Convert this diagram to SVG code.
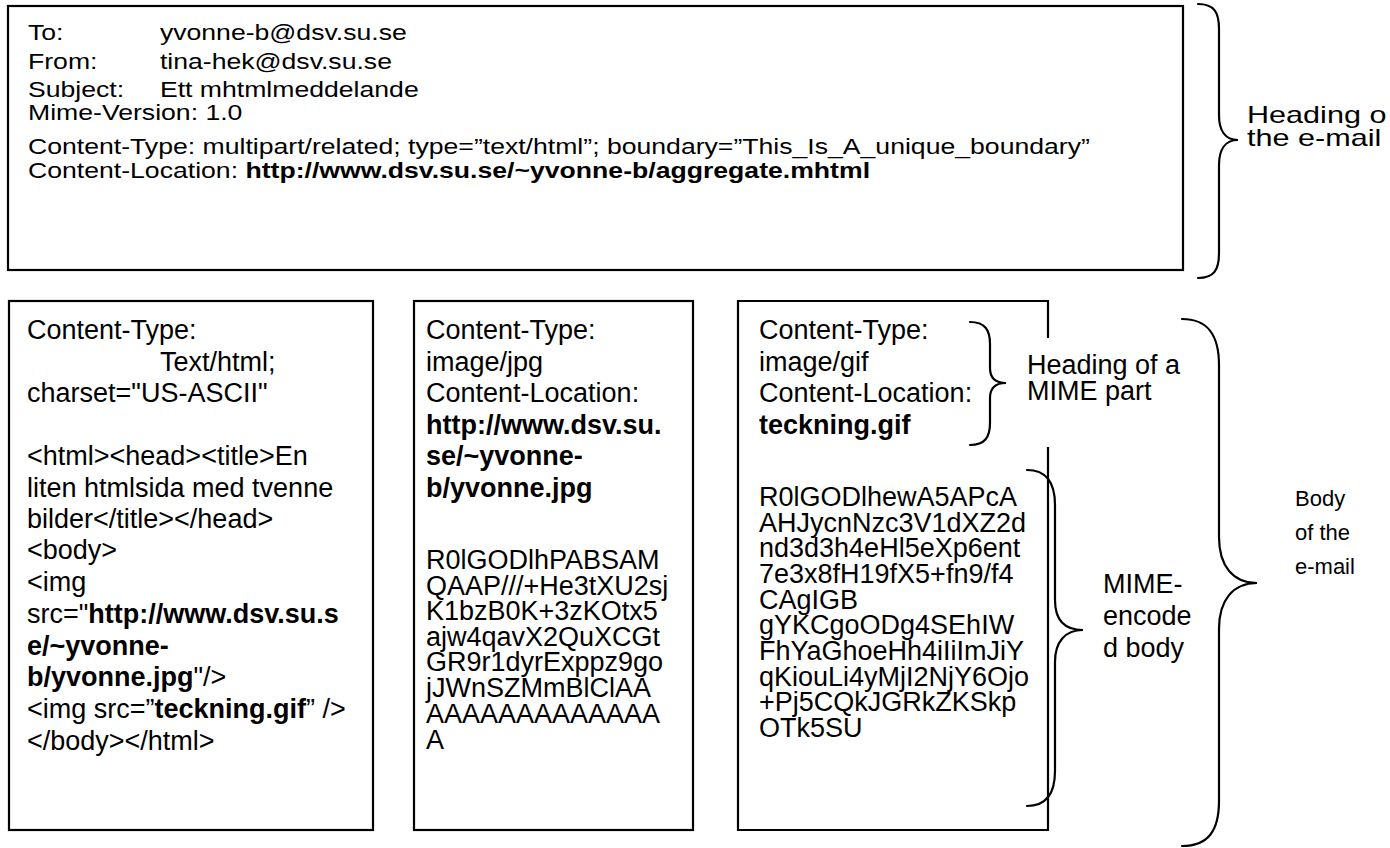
<svg xmlns="http://www.w3.org/2000/svg" width="1390" height="848" viewBox="0 0 1390 848">
<style>
  text { font-family: "Liberation Sans", Arial, sans-serif; font-size: 27px; fill: #000; }
  .b { font-weight: bold; }
  .hd { font-size: 22px; }
  .lb { font-size: 23px; }
  .sm { font-size: 22px; }
  .box { fill: #fff; stroke: #000; stroke-width: 2.2; }
  .edge { fill: none; stroke: #000; stroke-width: 2.2; }
  .brace { fill: none; stroke: #000; stroke-width: 2.2; stroke-linecap: round; }
</style>
<rect width="1390" height="848" fill="#fff"/>

<g id="email-heading">
  <rect class="box" x="8" y="6" width="1175" height="264"/>
  <g class="hd" transform="matrix(1.21,0,0,1,-5.88,0)">
    <text class="hd" x="28" y="40">To:</text><text class="hd" x="137" y="40">yvonne-b@dsv.su.se</text>
    <text class="hd" x="28" y="69">From:</text><text class="hd" x="137" y="69">tina-hek@dsv.su.se</text>
    <text class="hd" x="28" y="97">Subject:</text><text class="hd" x="137" y="97">Ett mhtmlmeddelande</text>
    <text class="hd" x="28" y="120">Mime-Version: 1.0</text>
    <text class="hd" x="28" y="154">Content-Type: multipart/related; type=”text/html”; boundary=”This_Is_A_unique_boundary”</text>
    <text class="hd" x="28" y="178">Content-Location: <tspan class="b">http://www.dsv.su.se/~yvonne-b/aggregate.mhtml</tspan></text>
  </g>
</g>

<g id="part-html">
  <rect class="box" x="9" y="301" width="364" height="529"/>
  <text x="27" y="339">Content-Type:</text>
  <text x="160" y="371">Text/html;</text>
  <text x="27" y="402">charset="US-ASCII"</text>
  <text x="27" y="465">&lt;html&gt;&lt;head&gt;&lt;title&gt;En</text>
  <text x="27" y="497">liten htmlsida med tvenne</text>
  <text x="27" y="528">bilder&lt;/title&gt;&lt;/head&gt;</text>
  <text x="27" y="559">&lt;body&gt;</text>
  <text x="27" y="591">&lt;img</text>
  <text x="27" y="623">src="<tspan class="b">http://www.dsv.su.s</tspan></text>
  <text x="27" y="655" class="b">e/~yvonne-</text>
  <text x="27" y="686"><tspan class="b">b/yvonne.jpg</tspan>"/&gt;</text>
  <text x="27" y="718">&lt;img src=”<tspan class="b">teckning.gif</tspan>” /&gt;</text>
  <text x="27" y="750">&lt;/body&gt;&lt;/html&gt;</text>
</g>

<g id="part-jpg">
  <rect class="box" x="414" y="301" width="279" height="529"/>
  <text x="426" y="339">Content-Type:</text>
  <text x="426" y="371">image/jpg</text>
  <text x="426" y="402">Content-Location:</text>
  <text x="426" y="434" class="b">http://www.dsv.su.</text>
  <text x="426" y="465" class="b">se/~yvonne-</text>
  <text x="426" y="497" class="b">b/yvonne.jpg</text>
  <text x="426" y="569">R0lGODlhPABSAM</text>
  <text x="426" y="595">QAAP///+He3tXU2sj</text>
  <text x="426" y="620">K1bzB0K+3zKOtx5</text>
  <text x="426" y="646">ajw4qavX2QuXCGt</text>
  <text x="426" y="671">GR9r1dyrExppz9go</text>
  <text x="426" y="697">jJWnSZMmBlClAA</text>
  <text x="426" y="723">AAAAAAAAAAAAA</text>
  <text x="426" y="749">A</text>
</g>

<g id="part-gif">
  <rect x="738" y="301" width="310" height="529" fill="#fff"/>
  <path class="edge" d="M1048,338 L1048,301 L738,301 L738,830 L1048,830 L1048,447"/>
  <text x="759" y="339">Content-Type:</text>
  <text x="759" y="371">image/gif</text>
  <text x="759" y="402">Content-Location:</text>
  <text x="759" y="434" class="b">teckning.gif</text>
  <text x="759" y="506">R0lGODlhewA5APcA</text>
  <text x="759" y="532">AHJycnNzc3V1dXZ2d</text>
  <text x="759" y="557">nd3d3h4eHl5eXp6ent</text>
  <text x="759" y="583">7e3x8fH19fX5+fn9/f4</text>
  <text x="759" y="609">CAgIGB</text>
  <text x="759" y="634">gYKCgoODg4SEhIW</text>
  <text x="759" y="660">FhYaGhoeHh4iIiImJiY</text>
  <text x="759" y="686">qKiouLi4yMjI2NjY6Ojo</text>
  <text x="759" y="711">+Pj5CQkJGRkZKSkp</text>
  <text x="759" y="737">OTk5SU</text>
</g>

<g id="connectors">
  <path class="brace" d="M1198,4 C1214,4 1219,12 1219,29 L1219,115 C1219,130 1225,140 1238,140 C1225,140 1219,150 1219,165 L1219,253 C1219,270 1214,278 1198,278"/>
  <path class="brace" d="M970,322 C985,322 990,330 990,344 L990,368 C990,378 996,383 1006,383 C996,383 990,388 990,398 L990,423 C990,437 985,445 970,445"/>
  <path class="brace" d="M1027,470 C1048,470 1055,485 1055,505 L1055,600 C1055,620 1065,630 1083,630 C1065,630 1055,642 1055,662 L1055,771 C1055,791 1048,806 1027,806"/>
  <path class="brace" d="M1182,319 C1208,319 1219,335 1219,365 L1219,537 C1219,566 1233,583 1257,583 C1233,583 1219,600 1219,629 L1219,801 C1219,831 1208,846 1182,846"/>
</g>

<g id="label-email-heading" transform="matrix(1.33,0,0,1,-411.5,0)">
  <text class="lb" x="1247" y="123">Heading o</text>
  <text class="lb" x="1247" y="146">the e-mail</text>
</g>
<g id="label-mime-heading">
  <text x="1027" y="374">Heading of a</text>
  <text x="1027" y="400">MIME part</text>
</g>
<g id="label-mime-body">
  <text x="1103" y="593">MIME-</text>
  <text x="1103" y="625">encode</text>
  <text x="1103" y="657">d body</text>
</g>
<g id="label-email-body">
  <text class="sm" x="1295" y="506">Body</text>
  <text class="sm" x="1295" y="540">of the</text>
  <text class="sm" x="1295" y="574">e-mail</text>
</g>
</svg>
